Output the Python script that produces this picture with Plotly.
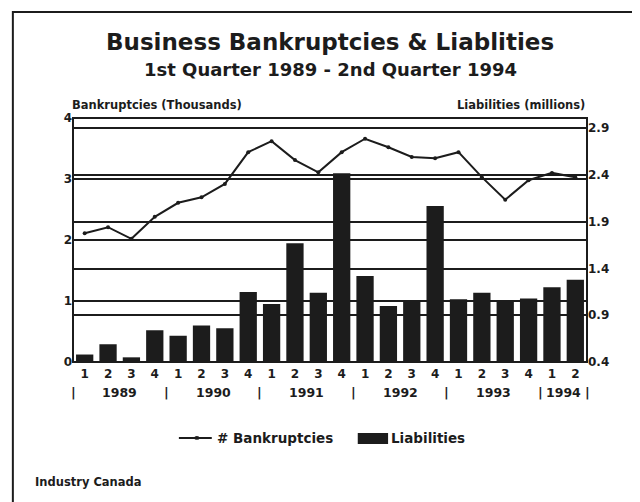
import plotly.graph_objects as go

quarters = ["1", "2", "3", "4"] * 5 + ["1", "2"]
years = ["1989", "1990", "1991", "1992", "1993", "1994"]

bankruptcies = [2.11, 2.21, 2.02, 2.38, 2.61, 2.70, 2.92, 3.44, 3.62, 3.31, 3.11,
                3.44, 3.66, 3.52, 3.36, 3.34, 3.44, 3.03, 2.66, 2.98, 3.10, 3.03]
liabilities = [0.48, 0.59, 0.45, 0.74, 0.68, 0.79, 0.76, 1.15, 1.02, 1.67, 1.14,
               2.42, 1.32, 1.00, 1.05, 2.07, 1.07, 1.14, 1.05, 1.08, 1.20, 1.28]

left_ticks = [0, 1, 2, 3, 4]
right_ticks = [0.4, 0.9, 1.4, 1.9, 2.4, 2.9]

FONT = "DejaVu Sans"
INK = "#1c1c1c"
x = list(range(len(quarters)))


def bold(size):
    return dict(family=FONT, size=size, color=INK, weight="bold")


fig = go.Figure()

fig.add_trace(go.Bar(
    x=x, y=liabilities, name="Liabilities",
    marker=dict(color=INK, line=dict(width=0)),
    width=0.74, yaxis="y", showlegend=False,
))
fig.add_trace(go.Scatter(
    x=x, y=bankruptcies, name="# Bankruptcies", mode="lines+markers",
    line=dict(color=INK, width=2),
    marker=dict(color=INK, size=4),
    yaxis="y2", showlegend=False,
))

# year labels and separators under the quarter ticks
annotations = []
year_starts = [0, 4, 8, 12, 16, 20]
year_ends = [4, 8, 12, 16, 20, 22]
for yr, s, e in zip(years, year_starts, year_ends):
    annotations.append(dict(
        x=(s + e - 1) / 2, y=-0.127, xref="x", yref="paper", text=yr,
        yanchor="middle", showarrow=False, font=bold(12.5),
    ))
for b in year_starts + [22]:
    annotations.append(dict(
        x=b - 0.5, y=-0.127, xref="x", yref="paper", text="|",
        yanchor="middle", showarrow=False, font=bold(13),
    ))

annotations += [
    dict(x=0.5, y=1.311, xref="paper", yref="paper", text="Business Bankruptcies & Liablities",
         yanchor="middle", showarrow=False, font=bold(23)),
    dict(x=0.5, y=1.197, xref="paper", yref="paper", text="1st Quarter 1989 - 2nd Quarter 1994",
         yanchor="middle", showarrow=False, font=bold(18)),
    dict(x=-0.006, y=1.053, xref="paper", yref="paper", text="Bankruptcies (Thousands)",
         xanchor="left", yanchor="middle", showarrow=False, font=bold(11.5)),
    dict(x=1.0, y=1.053, xref="paper", yref="paper", text="Liabilities (millions)",
         xanchor="right", yanchor="middle", showarrow=False, font=bold(11.5)),
    dict(x=-0.078, y=-0.492, xref="paper", yref="paper", text="Industry Canada",
         xanchor="left", yanchor="middle", showarrow=False, font=bold(11.5)),
    # legend texts
    dict(x=0.276, y=-0.311, xref="paper", yref="paper", text="# Bankruptcies",
         xanchor="left", yanchor="middle", showarrow=False, font=bold(13.5)),
    dict(x=0.615, y=-0.311, xref="paper", yref="paper", text="Liabilities",
         xanchor="left", yanchor="middle", showarrow=False, font=bold(13.5)),
]

shapes = [
    dict(type="rect", xref="paper", yref="paper", x0=0, x1=1, y0=0, y1=1,
         line=dict(color=INK, width=2)),
    dict(type="rect", xref="paper", yref="paper", x0=-0.117, x1=1.091, y0=-0.62, y1=1.434,
         line=dict(color=INK, width=2)),
    # legend symbols
    dict(type="line", xref="paper", yref="paper", x0=0.206, x1=0.270, y0=-0.311, y1=-0.311,
         line=dict(color=INK, width=2)),
    dict(type="circle", xref="paper", yref="paper", x0=0.236, x1=0.246, y0=-0.303, y1=-0.319,
         fillcolor=INK, line=dict(color=INK, width=0)),
    dict(type="rect", xref="paper", yref="paper", x0=0.554, x1=0.613, y0=-0.291, y1=-0.336,
         fillcolor=INK, line=dict(color=INK, width=0)),
]

# the page body adds an 8px margin, so the figure is 8px smaller on each axis
fig.update_layout(
    width=632, height=494,
    margin=dict(l=65, r=53, t=110, b=140),
    paper_bgcolor="white", plot_bgcolor="white",
    font=dict(family=FONT, color=INK),
    showlegend=False,
    xaxis=dict(range=[-0.5, 21.5], tickvals=x, ticktext=quarters, showgrid=False,
               ticks="", zeroline=False, ticklabelstandoff=3, tickfont=bold(12)),
    yaxis=dict(side="right", range=[0.4, 3.01], tickvals=right_ticks,
               ticktext=[f"{v:.1f}" for v in right_ticks],
               showgrid=True, gridcolor=INK, gridwidth=1.5, zeroline=False,
               tickfont=bold(12)),
    yaxis2=dict(side="left", overlaying="y", range=[0, 4], tickvals=left_ticks,
                showgrid=True, gridcolor=INK, gridwidth=1.5, zeroline=False,
                tickfont=bold(12)),
    annotations=annotations,
    shapes=shapes,
)

fig.write_html("out.html")
